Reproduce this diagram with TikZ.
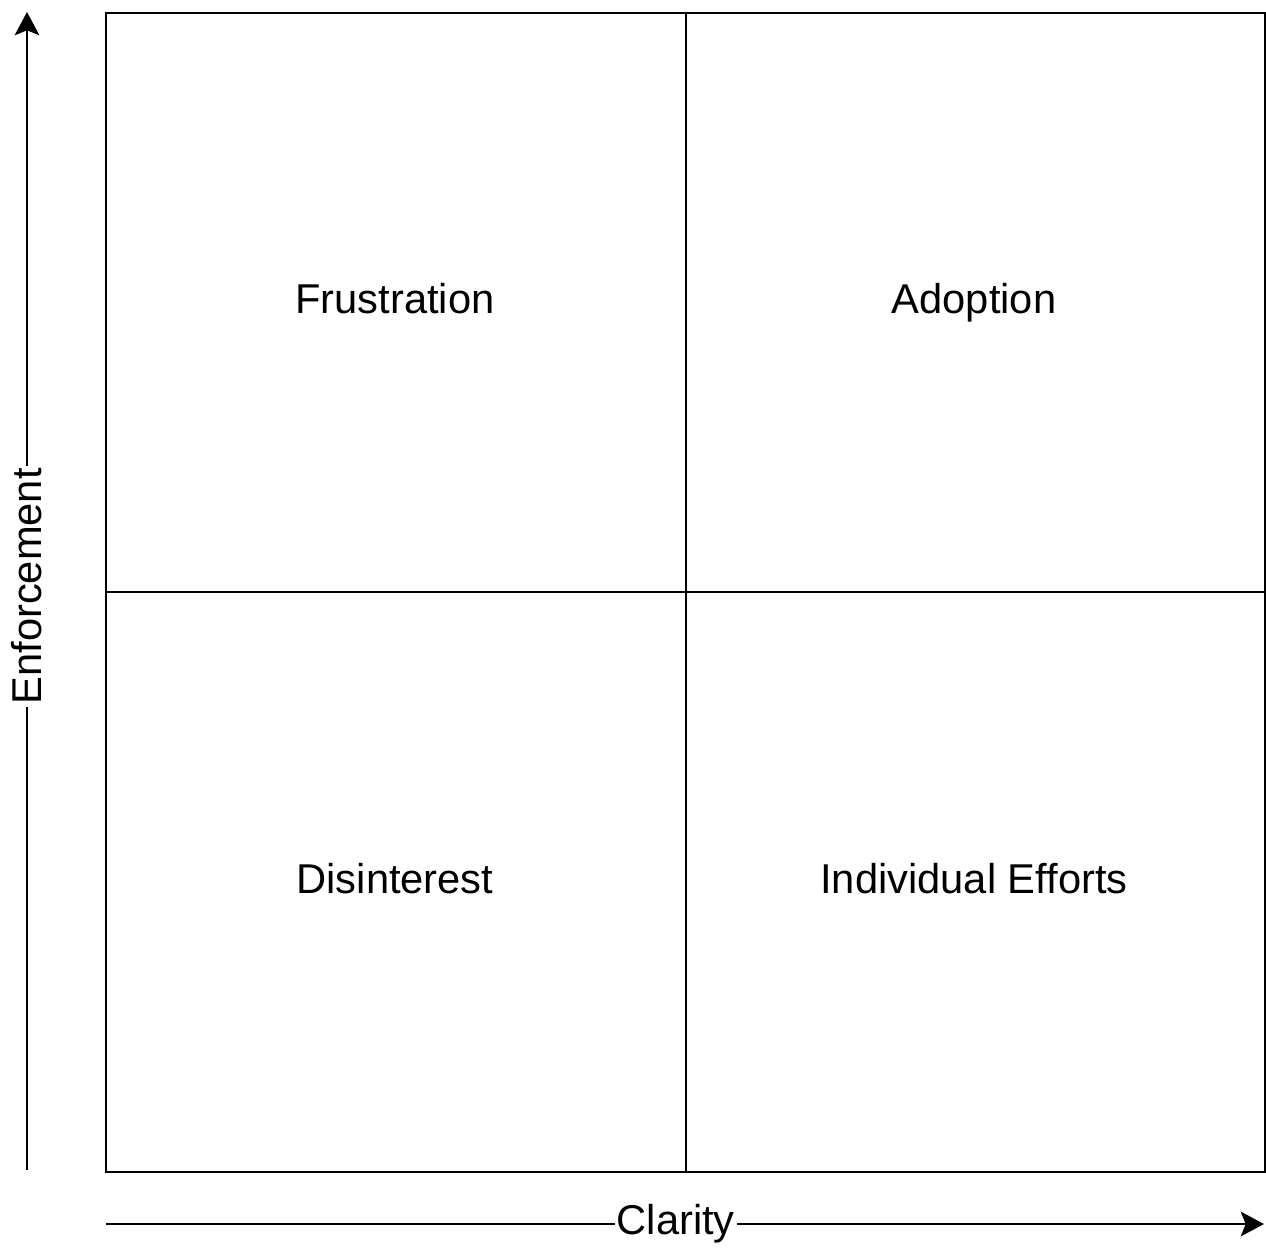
\documentclass[tikz,border=0pt]{standalone}
\usepackage{fontspec}
\setmainfont{Liberation Sans}
\usepackage{tikz}
\usetikzlibrary{arrows.meta, positioning, calc}

\tikzset{
    quadline/.style={line width=0.65pt, black},
    axisline/.style={line width=0.65pt, black, -{Stealth[length=6.6pt, width=7pt, inset=1.4pt]}},
    quadlabel/.style={font=\fontsize{11.85}{14}\selectfont, text=black, anchor=base},
    axislabel/.style={font=\fontsize{11.85}{14}\selectfont, text=black, fill=white, inner sep=0.6pt}
}

\begin{document}
\begin{tikzpicture}[x=0.01cm, y=-0.01cm]
    \useasboundingbox (0,0) rectangle (1266,1247);

    % Grid corners
    \coordinate (nw) at (106,13);
    \coordinate (se) at (1265,1172);
    \coordinate (mid) at (686,592);

    % Quadrant grid
    \draw[quadline] (nw) rectangle (se);
    \draw[quadline] (mid |- nw) -- (mid |- se);
    \draw[quadline] (mid -| nw) -- (mid -| se);

    % Quadrant labels (placed on their baselines)
    \node[quadlabel] (frustration) at (395,313) {Frustration};
    \node[quadlabel] (adoption) at (974,313) {Adoption};
    \node[quadlabel] (disinterest) at (395,893) {Disinterest};
    \node[quadlabel] (efforts) at (974,893) {Individual Efforts};

    % Axes
    \coordinate (ybase) at (27,1170);
    \coordinate (ytip) at (27,12);
    \coordinate (xbase) at (106,1224);
    \coordinate (xtip) at (1264,1224);
    \draw[axisline] (ybase) -- node[axislabel, rotate=90, pos=0.504] (enforcement) {Enforcement} (ytip);
    \draw[axisline] (xbase) -- node[axislabel, pos=0.492] (clarity) {Clarity} (xtip);
\end{tikzpicture}
\end{document}
